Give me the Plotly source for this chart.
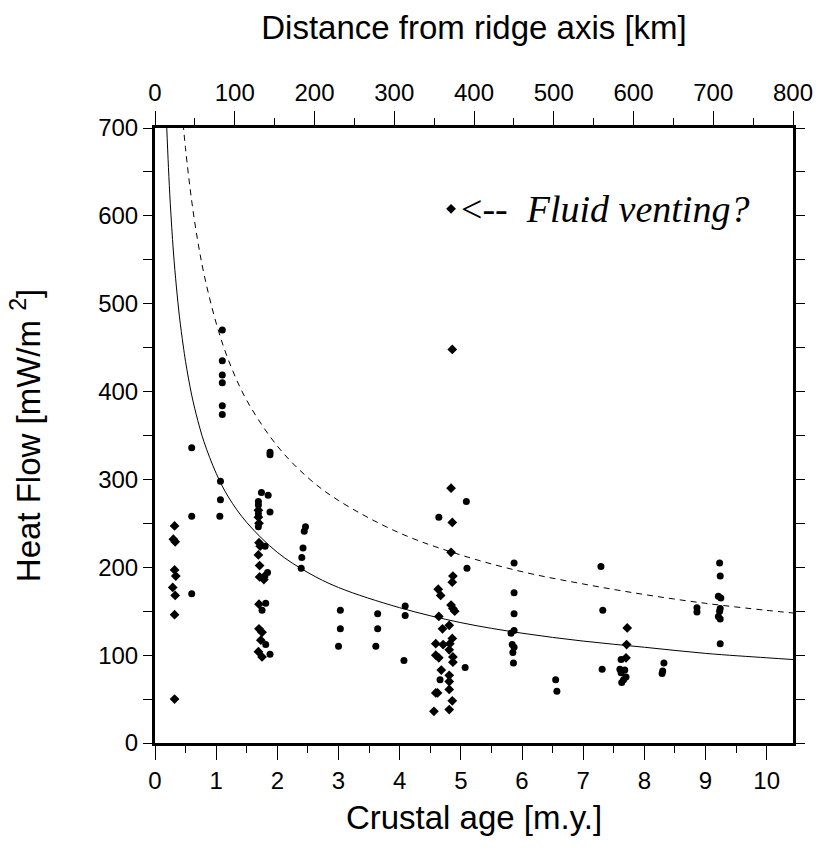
import plotly.graph_objects as go

# ---- data ----
circle_age = [0.60, 0.60, 0.60,
              1.10, 1.10, 1.10, 1.10, 1.10, 1.10, 1.07, 1.07, 1.06,
              1.74, 1.85, 1.88, 1.88, 1.88, 1.69, 1.69, 1.69, 1.69,
              1.80, 1.84, 1.81, 1.75, 1.81, 1.88,
              2.46, 2.44, 2.42, 2.40, 2.39,
              3.03, 3.03, 3.00, 3.64, 3.64, 3.61, 4.09, 4.09, 4.07,
              4.64, 5.09, 5.10, 5.07, 4.66,
              5.87, 5.87, 5.87, 5.87, 5.82, 5.84, 5.87, 5.85, 5.86,
              6.55, 6.57,
              7.29, 7.32, 7.31,
              7.62, 7.60, 7.68, 7.62, 7.70, 7.66, 7.63,
              8.32, 8.30, 8.29,
              8.86, 8.86,
              9.23, 9.24, 9.21, 9.25, 9.24, 9.23, 9.21, 9.24, 9.24]
circle_q = [336, 258, 170,
            470, 435, 419, 410, 384, 374, 298, 277, 258,
            285, 282, 331, 328, 263, 271, 261, 246, 275,
            224, 194, 159, 151, 112, 101,
            246, 241, 222, 211, 199,
            151, 130, 110, 147, 130, 110, 156, 145, 94,
            257, 275, 199, 86, 72,
            205, 171, 147, 128, 125, 112, 109, 103, 91,
            72, 59,
            201, 151, 84,
            95, 84, 83, 80, 75, 72, 69,
            91, 82, 79,
            154, 149,
            205, 190, 167, 165, 153, 150, 144, 141, 113]

diamond_age = [0.32, 0.30, 0.33, 0.32, 0.34, 0.29, 0.33, 0.32, 0.32,
               1.69, 1.70, 1.72, 1.69, 1.70, 1.69, 1.71, 1.71, 1.78, 1.78,
               1.70, 1.70, 1.75, 1.73, 1.69, 1.75,
               4.84, 4.86, 4.84, 4.86, 4.84, 4.87, 4.86, 4.63, 4.67, 4.84,
               4.87, 4.90, 4.64, 4.81, 4.70, 4.86, 4.59, 4.71, 4.82, 4.81,
               4.59, 4.64, 4.87, 4.87, 4.68, 4.81, 4.81, 4.81, 4.59, 4.62,
               4.86, 4.56, 4.81,
               7.72, 7.71, 7.70]
diamond_q = [247, 232, 229, 197, 190, 177, 168, 146, 50,
             265, 250, 224, 257, 228, 214, 202, 189, 189, 186,
             158, 130, 126, 117, 104, 98,
             608, 448, 290, 251, 217, 190, 183, 175, 168, 157,
             153, 150, 144, 134, 130, 119, 113, 112, 113, 106,
             100, 97, 98, 92, 83, 77, 70, 61, 57, 57,
             48, 36, 38,
             131, 112, 97]

# model curves
curve_age = [0.19, 0.22, 0.25, 0.30, 0.35, 0.40, 0.46, 0.50, 0.60, 0.70, 0.80,
             1.0, 1.2, 1.5, 2.0, 2.5, 3.0, 4.0, 5.0, 6.0, 7.0, 8.0, 9.0, 10.0, 10.43]
solid_q = [704, 655, 614, 560, 519, 485, 453, 434, 396, 367, 343,
           307, 280, 251, 217, 194, 177, 154, 137, 125, 116, 109, 102, 97, 95]
dashed_q = [None, None, None, None, None, None, 705, 676, 617, 571, 534,
            478, 436, 390, 338, 302, 276, 239, 214, 195, 181, 169, 159, 151, 148]

age_ticks = list(range(0, 11))
km_ticks = list(range(0, 801, 100))
q_ticks = list(range(0, 701, 100))

FONT = "Liberation Sans, Arial, Helvetica, sans-serif"
TICK_SIZE = 24
TITLE_SIZE = 33

fig = go.Figure()
fig.add_trace(go.Scatter(x=curve_age, y=solid_q, mode="lines", line_shape="spline",
                         line=dict(color="black", width=1), hoverinfo="skip"))
fig.add_trace(go.Scatter(x=curve_age, y=dashed_q, mode="lines", line_shape="spline",
                         line=dict(color="black", width=1, dash="6px,5px"), hoverinfo="skip"))
fig.add_trace(go.Scatter(x=circle_age, y=circle_q, mode="markers",
                         marker=dict(symbol="circle", size=7, color="black", line=dict(width=0))))
fig.add_trace(go.Scatter(x=diamond_age, y=diamond_q, mode="markers",
                         marker=dict(symbol="diamond", size=7.5, color="black", line=dict(width=0))))
# carrier for the top (km) and right axes
fig.add_trace(go.Scatter(x=[km_ticks[0]], y=[None], xaxis="x2", yaxis="y2",
                         mode="markers", hoverinfo="skip", showlegend=False))

fig.add_annotation(x=4.84, y=608, xref="x", yref="y", xanchor="left", yanchor="middle",
                   xshift=8, text="&lt;--&nbsp;&nbsp;<i>Fluid venting?</i>", showarrow=False,
                   font=dict(family="Liberation Serif, Times New Roman, serif", size=38, color="black"))

axis_common = dict(showgrid=False, zeroline=False, showline=True, linewidth=3,
                   linecolor="black", ticks="outside", tickcolor="black", tickwidth=1,
                   tickfont=dict(family=FONT, size=TICK_SIZE, color="black"))

fig.update_layout(
    width=825, height=864,
    margin=dict(l=155, r=27, t=128, b=121),
    plot_bgcolor="white", paper_bgcolor="white",
    showlegend=False,
    xaxis=dict(axis_common, range=[0, 10.43], tickvals=age_ticks, ticklen=14,
               minor=dict(dtick=0.5, tick0=0, ticklen=7, ticks="outside", tickcolor="black", tickwidth=1),
               title=dict(text="Crustal age [m.y.]", font=dict(family=FONT, size=TITLE_SIZE, color="black"), standoff=14)),
    yaxis=dict(axis_common, range=[0, 700], tickvals=q_ticks, ticklen=9,
               minor=dict(dtick=50, tick0=0, ticklen=9, ticks="outside", tickcolor="black", tickwidth=1),
               title=dict(text="Heat Flow [mW/m <sup>2</sup>]", font=dict(family=FONT, size=TITLE_SIZE, color="black"), standoff=48)),
    xaxis2=dict(axis_common, overlaying="x", side="top", anchor="y2", range=[0, 800],
                tickvals=km_ticks, ticklen=14,
                minor=dict(dtick=50, tick0=0, ticklen=7, ticks="outside", tickcolor="black", tickwidth=1),
                title=dict(text="Distance from ridge axis [km]", font=dict(family=FONT, size=TITLE_SIZE, color="black"), standoff=30)),
    yaxis2=dict(axis_common, overlaying="y", side="right", anchor="x2", range=[0, 700],
                dtick=50, tick0=0, ticklen=9, showticklabels=False),
)

fig.write_html("out.html")
